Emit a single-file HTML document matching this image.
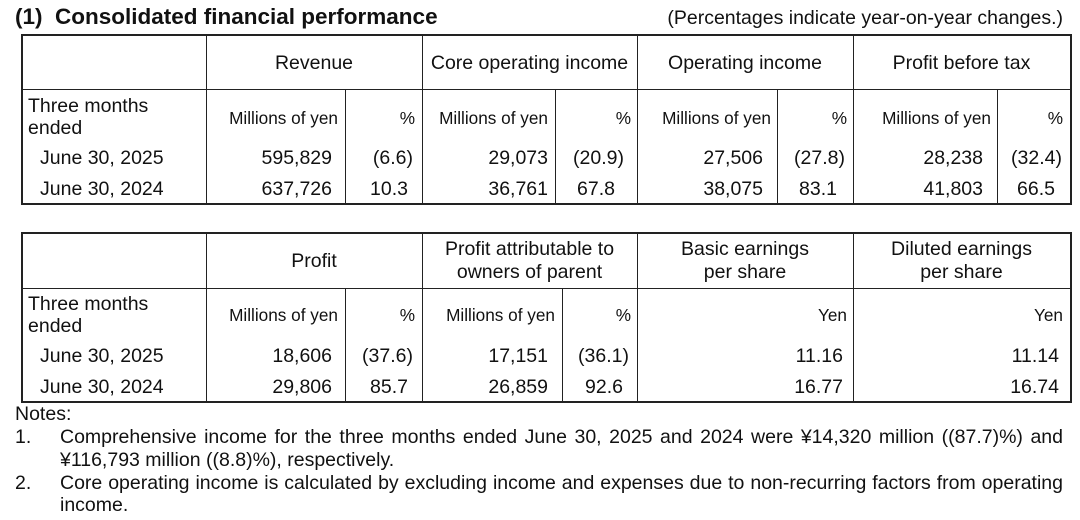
<!DOCTYPE html>
<html><head><meta charset="utf-8"><style>
body{margin:0;width:1080px;height:520px;background:#fff;position:relative;overflow:hidden;font-family:"Liberation Sans",Arial,sans-serif;color:#111}
.a{position:absolute;white-space:nowrap;line-height:22px;font-size:19.5px}
.s{font-size:17.2px}
.r{text-align:right}
.c{text-align:center}
.h{position:absolute;background:#222;height:2px}
.v{position:absolute;background:#222;width:2px}
.hl{position:absolute;background:#222;height:1px}
.vl{position:absolute;background:#222;width:1px}
.note{position:absolute;left:60px;width:1003px;font-size:19.5px;line-height:23px;text-align:justify;text-align-last:justify;white-space:nowrap}
</style></head><body>
<div class="a" style="left:15px;top:4px;font-size:22.5px;font-weight:bold;line-height:26px">(1)&nbsp; Consolidated financial performance</div>
<div class="a" style="right:17px;top:7px;font-size:19.5px">(Percentages indicate year-on-year changes.)</div>

<div>
<div class="h" style="left:21px;top:34px;width:1051px"></div>
<div class="hl" style="left:21px;top:89px;width:1051px"></div>
<div class="h" style="left:21px;top:203px;width:1051px"></div>
<div class="v" style="left:21px;top:34px;height:171px"></div>
<div class="vl" style="left:206px;top:34px;height:170px"></div>
<div class="vl" style="left:422px;top:34px;height:170px"></div>
<div class="vl" style="left:637px;top:34px;height:170px"></div>
<div class="vl" style="left:853px;top:34px;height:170px"></div>
<div class="v" style="left:1070px;top:34px;height:171px"></div>
<div class="vl" style="left:345px;top:90px;height:114px"></div>
<div class="vl" style="left:555px;top:90px;height:114px"></div>
<div class="vl" style="left:777px;top:90px;height:114px"></div>
<div class="vl" style="left:997px;top:90px;height:114px"></div>

<div class="a c" style="left:206px;width:216px;top:52px">Revenue</div>
<div class="a c" style="left:422px;width:215px;top:52px">Core operating income</div>
<div class="a c" style="left:637px;width:216px;top:52px">Operating income</div>
<div class="a c" style="left:853px;width:217px;top:52px">Profit before tax</div>

<div class="a" style="left:28px;top:95px;line-height:22px">Three months<br>ended</div>
<div class="a" style="left:40px;top:147px">June 30, 2025</div>
<div class="a" style="left:40px;top:178px">June 30, 2024</div>

<div class="a s r" style="right:742px;top:107px">Millions of yen</div>
<div class="a s r" style="right:665px;top:107px">%</div>
<div class="a s r" style="right:532px;top:107px">Millions of yen</div>
<div class="a s r" style="right:449px;top:107px">%</div>
<div class="a s r" style="right:309px;top:107px">Millions of yen</div>
<div class="a s r" style="right:233px;top:107px">%</div>
<div class="a s r" style="right:89px;top:107px">Millions of yen</div>
<div class="a s r" style="right:17px;top:107px">%</div>

<div class="a r" style="right:748px;top:147px">595,829</div>
<div class="a r" style="right:667px;top:147px">(6.6)</div>
<div class="a r" style="right:532px;top:147px">29,073</div>
<div class="a r" style="right:456px;top:147px">(20.9)</div>
<div class="a r" style="right:317px;top:147px">27,506</div>
<div class="a r" style="right:235px;top:147px">(27.8)</div>
<div class="a r" style="right:97px;top:147px">28,238</div>
<div class="a r" style="right:18px;top:147px">(32.4)</div>

<div class="a r" style="right:748px;top:178px">637,726</div>
<div class="a r" style="right:672px;top:178px">10.3</div>
<div class="a r" style="right:532px;top:178px">36,761</div>
<div class="a r" style="right:465px;top:178px">67.8</div>
<div class="a r" style="right:317px;top:178px">38,075</div>
<div class="a r" style="right:243px;top:178px">83.1</div>
<div class="a r" style="right:97px;top:178px">41,803</div>
<div class="a r" style="right:25px;top:178px">66.5</div>
</div>

<div>
<div class="h" style="left:21px;top:232px;width:1051px"></div>
<div class="hl" style="left:21px;top:288px;width:1051px"></div>
<div class="h" style="left:21px;top:401px;width:1051px"></div>
<div class="v" style="left:21px;top:232px;height:171px"></div>
<div class="vl" style="left:206px;top:232px;height:170px"></div>
<div class="vl" style="left:422px;top:232px;height:170px"></div>
<div class="vl" style="left:637px;top:232px;height:170px"></div>
<div class="vl" style="left:853px;top:232px;height:170px"></div>
<div class="v" style="left:1070px;top:232px;height:171px"></div>
<div class="vl" style="left:345px;top:288px;height:114px"></div>
<div class="vl" style="left:562px;top:288px;height:114px"></div>

<div class="a c" style="left:206px;width:216px;top:250px">Profit</div>
<div class="a c" style="left:422px;width:215px;top:238px;line-height:23px">Profit attributable to<br>owners of parent</div>
<div class="a c" style="left:637px;width:216px;top:238px;line-height:23px">Basic earnings<br>per share</div>
<div class="a c" style="left:853px;width:217px;top:238px;line-height:23px">Diluted earnings<br>per share</div>

<div class="a" style="left:28px;top:293px;line-height:22px">Three months<br>ended</div>
<div class="a" style="left:40px;top:345px">June 30, 2025</div>
<div class="a" style="left:40px;top:376px">June 30, 2024</div>

<div class="a s r" style="right:742px;top:304px">Millions of yen</div>
<div class="a s r" style="right:665px;top:304px">%</div>
<div class="a s r" style="right:525px;top:304px">Millions of yen</div>
<div class="a s r" style="right:449px;top:304px">%</div>
<div class="a s r" style="right:233px;top:304px">Yen</div>
<div class="a s r" style="right:17px;top:304px">Yen</div>

<div class="a r" style="right:748px;top:345px">18,606</div>
<div class="a r" style="right:667px;top:345px">(37.6)</div>
<div class="a r" style="right:532px;top:345px">17,151</div>
<div class="a r" style="right:451px;top:345px">(36.1)</div>
<div class="a r" style="right:237px;top:345px">11.16</div>
<div class="a r" style="right:21px;top:345px">11.14</div>

<div class="a r" style="right:748px;top:376px">29,806</div>
<div class="a r" style="right:672px;top:376px">85.7</div>
<div class="a r" style="right:532px;top:376px">26,859</div>
<div class="a r" style="right:457px;top:376px">92.6</div>
<div class="a r" style="right:237px;top:376px">16.77</div>
<div class="a r" style="right:21px;top:376px">16.74</div>
</div>

<div>
<div class="a" style="left:15px;top:403px;line-height:23px">Notes:</div>
<div class="a" style="left:15px;top:426px;line-height:23px">1.</div>
<div class="note" style="top:426px">Comprehensive income for the three months ended June 30, 2025 and 2024 were ¥14,320 million ((87.7)%) and</div>
<div class="a" style="left:60px;top:449px;line-height:23px">¥116,793 million ((8.8)%), respectively.</div>
<div class="a" style="left:15px;top:472px;line-height:23px">2.</div>
<div class="note" style="top:472px">Core operating income is calculated by excluding income and expenses due to non-recurring factors from operating</div>
<div class="a" style="left:60px;top:494px;line-height:23px">income.</div>
</div>
</body></html>
